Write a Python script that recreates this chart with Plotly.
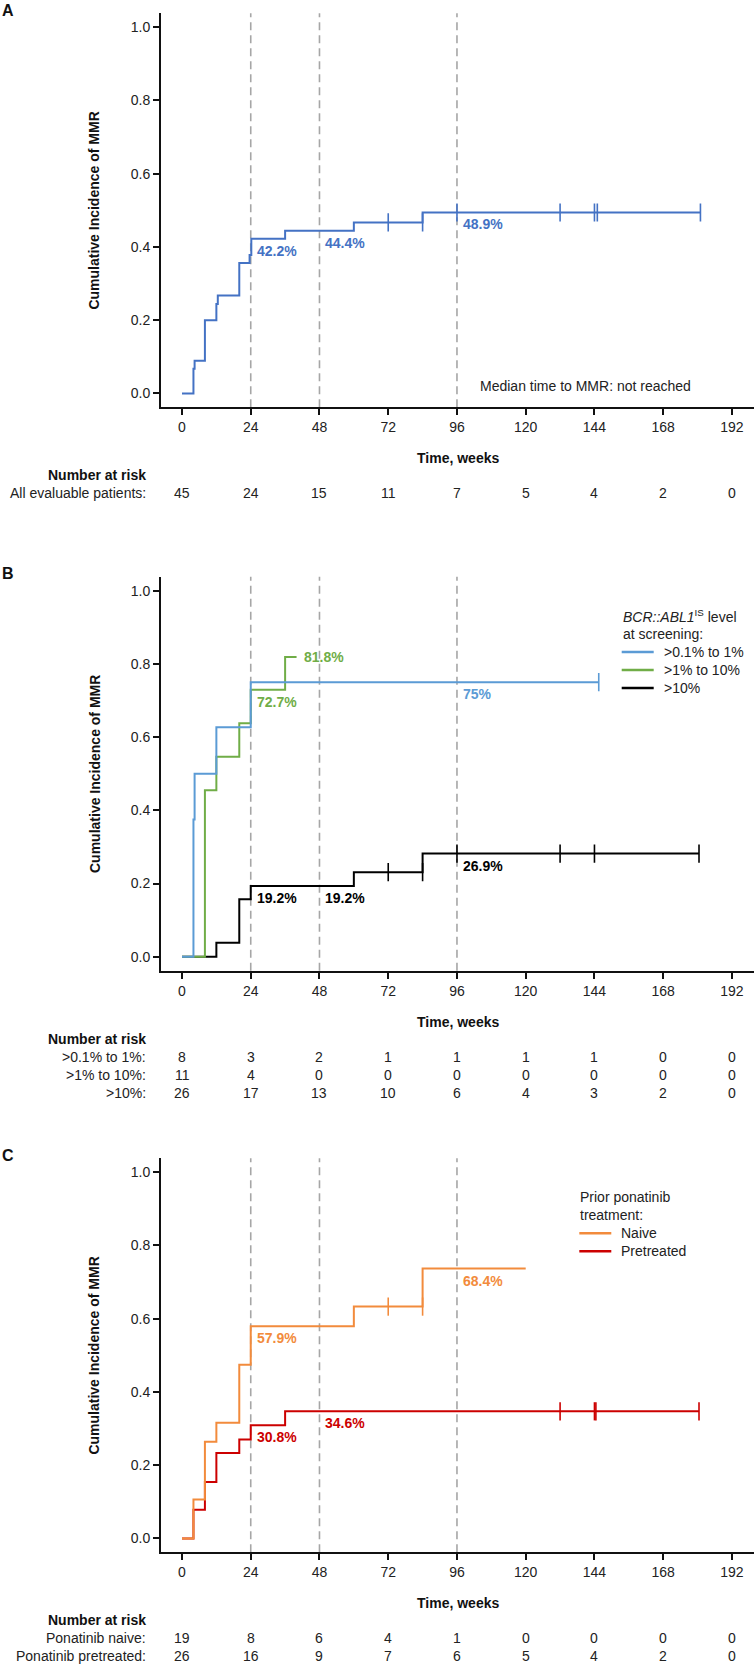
import plotly.graph_objects as go

W, H = 754, 1665
FONT = "Liberation Sans, Arial, Helvetica, sans-serif"

# ---------------- data ----------------
TICK_WEEKS = [0, 24, 48, 72, 96, 120, 144, 168, 192]
LANDMARK_WEEKS = [24, 48, 96]

# Panel A - all evaluable patients
A_times = [4, 4.4, 8, 12, 12.5, 20, 23.6, 24.2, 36, 60, 84]
A_vals = [0.067, 0.089, 0.200, 0.244, 0.267, 0.356, 0.378, 0.422, 0.444, 0.467, 0.494]
A_end = 181
A_censor = [72, 84, 96, 132, 144, 145, 181]
A_labels = [(24, "42.2%"), (48, "44.4%"), (96, "48.9%")]
A_risk_names = ["All evaluable patients:"]
A_risk = [[45, 24, 15, 11, 7, 5, 4, 2, 0]]

# Panel B - BCR::ABL1 level at screening
B1_times = [4, 4.4, 12, 24]
B1_vals = [0.375, 0.500, 0.627, 0.750]
B1_end = 145.5
B1_censor = [145.5]
B2_times = [8, 12, 20, 24, 36]
B2_vals = [0.455, 0.546, 0.638, 0.729, 0.819]
B2_end = 40
B2_censor = []
B3_times = [12, 20, 24, 60, 84]
B3_vals = [0.038, 0.157, 0.193, 0.231, 0.282]
B3_end = 180.5
B3_censor = [72, 84, 96, 132, 144, 180.5]
B_names = [">0.1% to 1%", ">1% to 10%", ">10%"]
B_legend_title = ["<i>BCR::ABL1</i><sup>IS</sup> level", "at screening:"]
B_risk_names = [">0.1% to 1%:", ">1% to 10%:", ">10%:"]
B_risk = [[8, 3, 2, 1, 1, 1, 1, 0, 0],
          [11, 4, 0, 0, 0, 0, 0, 0, 0],
          [26, 17, 13, 10, 6, 4, 3, 2, 0]]

# Panel C - prior ponatinib treatment
C1_times = [4, 8, 12, 20, 24, 60, 84]
C1_vals = [0.106, 0.264, 0.316, 0.474, 0.579, 0.633, 0.737]
C1_end = 120
C1_censor = [72, 84]
C2_times = [4, 8, 12, 20, 24, 36]
C2_vals = [0.078, 0.154, 0.233, 0.270, 0.309, 0.347]
C2_end = 180.5
C2_censor = [132, 144, 144.5, 180.5]
C_names = ["Naive", "Pretreated"]
C_legend_title = ["Prior ponatinib", "treatment:"]
C_risk_names = ["Ponatinib naive:", "Ponatinib pretreated:"]
C_risk = [[19, 8, 6, 4, 1, 0, 0, 0, 0],
          [26, 16, 9, 7, 6, 5, 4, 2, 0]]

# ---------------- styling ----------------
C_A = "#4472C4"
C_B1 = "#5B9BD5"
C_B2 = "#70AD47"
C_B3 = "#000000"
C_C1 = "#F28B3C"
C_C2 = "#CC0000"
DASH_COLOR = "#A6A6A6"

# panel geometry in pixels (top of axis, bottom of axis)
PANELS = [(13.3, 407.3), (576.7, 970.7), (1158.3, 1552.3)]
X_LEFT_PX = 161
XRANGE = [-7.33, 199.7]
YRANGE = [-0.038, 1.038]


def py(px):
    return 1 - px / H


def px_x(px):
    return px / W


fig = go.Figure()


def step_xy(times, vals, end):
    return [0] + list(times) + [end], [0] + list(vals) + [vals[-1]]


def value_before(times, vals, t):
    v = 0
    for ti, vi in zip(times, vals):
        if ti < t:
            v = vi
    return v


def add_curve(times, vals, end, censor, color, axis, name=None):
    xs, ys = step_xy(times, vals, end)
    xa = "x" if axis == 1 else f"x{axis}"
    ya = "y" if axis == 1 else f"y{axis}"
    fig.add_trace(go.Scatter(x=xs, y=ys, mode="lines", line=dict(color=color, width=2, shape="hv"),
                             xaxis=xa, yaxis=ya, hoverinfo="skip", showlegend=False, name=name))
    if censor:
        cy = [value_before(times, vals, t) if t < end else vals[-1] for t in censor]
        fig.add_trace(go.Scatter(x=censor, y=cy, mode="markers",
                                 marker=dict(symbol="line-ns", size=13,
                                             line=dict(color=color, width=1.6)),
                                 xaxis=xa, yaxis=ya, showlegend=False, hoverinfo="skip"))


# panel A
add_curve(A_times, A_vals, A_end, A_censor, C_A, 1)
# panel B (drawing order: black, green, blue on top)
add_curve(B3_times, B3_vals, B3_end, B3_censor, C_B3, 2, B_names[2])
add_curve(B2_times, B2_vals, B2_end, B2_censor, C_B2, 2, B_names[1])
add_curve(B1_times, B1_vals, B1_end, B1_censor, C_B1, 2, B_names[0])
# panel C
add_curve(C2_times, C2_vals, C2_end, C2_censor, C_C2, 3, C_names[1])
add_curve(C1_times, C1_vals, C1_end, C1_censor, C_C1, 3, C_names[0])

ann = []
shapes = []


def lbl(x, y, text, color, axis, xanchor="left", yanchor="top", xshift=4, yshift=-2):
    xa = "x" if axis == 1 else f"x{axis}"
    ya = "y" if axis == 1 else f"y{axis}"
    ann.append(dict(x=x, y=y, xref=xa, yref=ya, text=f"<b>{text}</b>", showarrow=False,
                    xanchor=xanchor, yanchor=yanchor, xshift=xshift, yshift=yshift,
                    font=dict(size=14, color=color, family=FONT)))


# percentage labels
for t, txt in A_labels:
    lbl(t, value_before(A_times, A_vals, t + 1), txt, C_A, 1)
lbl(24, value_before(B2_times, B2_vals, 25), "72.7%", C_B2, 2)
lbl(B2_end, B2_vals[-1], "81.8%", C_B2, 2, yanchor="middle", xshift=5, yshift=0)
lbl(96, value_before(B1_times, B1_vals, 97), "75%", C_B1, 2)
lbl(24, value_before(B3_times, B3_vals, 25), "19.2%", C_B3, 2)
lbl(48, value_before(B3_times, B3_vals, 49), "19.2%", C_B3, 2)
lbl(96, value_before(B3_times, B3_vals, 97), "26.9%", C_B3, 2)
lbl(24, value_before(C1_times, C1_vals, 25), "57.9%", C_C1, 3)
lbl(96, value_before(C1_times, C1_vals, 97), "68.4%", C_C1, 3)
lbl(24, value_before(C2_times, C2_vals, 25), "30.8%", C_C2, 3)
lbl(48, value_before(C2_times, C2_vals, 49), "34.6%", C_C2, 3)

ann.append(dict(x=140.7, y=0.02, xref="x", yref="y", text="Median time to MMR: not reached",
                showarrow=False, xanchor="center", yanchor="middle",
                font=dict(size=14, color="#222222", family=FONT)))


# custom legends (title lines + line swatches)
def legend(x_px, y_px, title_lines, names, colors):
    y = y_px
    for t in title_lines:
        ann.append(dict(x=px_x(x_px), y=py(y), xref="paper", yref="paper", text=t, showarrow=False,
                        xanchor="left", yanchor="middle", xshift=-1,
                        font=dict(size=14, color="#222", family=FONT)))
        y += 18
    for nm, col in zip(names, colors):
        shapes.append(dict(type="line", xref="paper", yref="paper", x0=px_x(x_px), x1=px_x(x_px + 32),
                           y0=py(y), y1=py(y), line=dict(color=col, width=2.5)))
        ann.append(dict(x=px_x(x_px + 40), y=py(y), xref="paper", yref="paper", text=nm, showarrow=False,
                        xanchor="left", yanchor="middle",
                        font=dict(size=14, color="#222", family=FONT)))
        y += 18


legend(621.7, 616, B_legend_title, B_names, [C_B1, C_B2, C_B3])
legend(579.3, 1197.3, C_legend_title, C_names, [C_C1, C_C2])

risk_sets = [(A_risk_names, A_risk), (B_risk_names, B_risk), (C_risk_names, C_risk)]
letters = ["A", "B", "C"]

layout_axes = {}
for i, (top, bot) in enumerate(PANELS):
    k = i + 1
    xa = "xaxis" if k == 1 else f"xaxis{k}"
    ya = "yaxis" if k == 1 else f"yaxis{k}"
    xref = "x" if k == 1 else f"x{k}"
    yref = "y" if k == 1 else f"y{k}"
    layout_axes[xa] = dict(domain=[px_x(X_LEFT_PX), 1], range=XRANGE, anchor=yref,
                           tickvals=TICK_WEEKS, ticks="outside", ticklen=6, tickwidth=1.5,
                           tickcolor="#111", showline=True, linecolor="#111", linewidth=2,
                           showgrid=False, zeroline=False,
                           tickfont=dict(size=14, color="#222", family=FONT))
    layout_axes[ya] = dict(domain=[py(bot), py(top)], range=YRANGE, anchor=xref,
                           tickvals=[0, 0.2, 0.4, 0.6, 0.8, 1.0], tickformat=".1f",
                           ticks="outside", ticklen=6, tickwidth=1.5, tickcolor="#111",
                           showline=True, linecolor="#111", linewidth=2,
                           showgrid=False, zeroline=False,
                           tickfont=dict(size=14, color="#222", family=FONT))
    # landmark lines
    for w in LANDMARK_WEEKS:
        shapes.append(dict(type="line", xref=xref, yref=f"{yref} domain", x0=w, x1=w, y0=0, y1=1,
                           line=dict(color=DASH_COLOR, width=1.6, dash="8px,5px"), layer="below"))
    # y title
    ann.append(dict(x=px_x(94.3), y=py((top + bot) / 2), xref="paper", yref="paper",
                    text="<b>Cumulative Incidence of MMR</b>", textangle=-90, showarrow=False,
                    xanchor="center", yanchor="middle",
                    font=dict(size=14, color="#111", family=FONT)))
    # panel letter
    ann.append(dict(x=0, y=py(top - 3), xref="paper", yref="paper", text=f"<b>{letters[i]}</b>",
                    showarrow=False, xanchor="left", yanchor="middle",
                    font=dict(size=16, color="#111", family=FONT)))
    # x title
    ann.append(dict(x=0.5, y=py(bot + 51), xref=f"{xref} domain", yref="paper",
                    text="<b>Time, weeks</b>", showarrow=False, xanchor="center", yanchor="middle",
                    font=dict(size=14, color="#111", family=FONT)))
    # risk table
    ann.append(dict(x=px_x(148), y=py(bot + 68), xref="paper", yref="paper",
                    text="<b>Number at risk</b>", showarrow=False, xanchor="right", yanchor="middle",
                    font=dict(size=14, color="#111", family=FONT)))
    names, rows = risk_sets[i]
    for r, (nm, row) in enumerate(zip(names, rows)):
        yy = py(bot + 86 + 18 * r)
        ann.append(dict(x=px_x(148), y=yy, xref="paper", yref="paper", text=nm, showarrow=False,
                        xanchor="right", yanchor="middle", font=dict(size=14, color="#222", family=FONT)))
        for t, n in zip(TICK_WEEKS, row):
            ann.append(dict(x=t, y=yy, xref=xref, yref="paper", text=str(n), showarrow=False,
                            xanchor="center", yanchor="middle",
                            font=dict(size=14, color="#222", family=FONT)))

fig.update_layout(
    width=W, height=H, margin=dict(l=0, r=0, t=0, b=0),
    paper_bgcolor="white", plot_bgcolor="white",
    font=dict(family=FONT, size=14, color="#222"),
    showlegend=False,
    annotations=ann, shapes=shapes,
    **layout_axes,
)

fig.write_html("out.html", config={"displayModeBar": False},
               post_script="document.body.style.margin='0px';document.body.style.padding='0px';")
